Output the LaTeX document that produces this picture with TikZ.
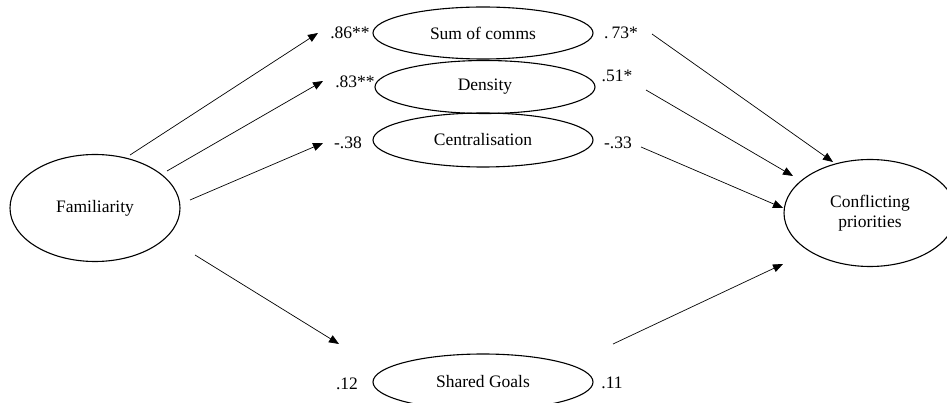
\documentclass[tikz,border=0pt]{standalone}
\usepackage{fontspec}
\setmainfont{Liberation Serif}
\usetikzlibrary{shapes.geometric,arrows.meta}
\begin{document}
\begin{tikzpicture}[x=1pt,y=-1pt,
  every node/.style={font=\fontsize{17.5}{20}\selectfont},
  var/.style={ellipse,draw,line width=1.1pt,inner sep=0pt,align=center},
  lbl/.style={inner sep=0pt},
  path/.style={line width=0.7pt,-{Triangle[length=10pt,width=8pt]}}]
\useasboundingbox (0,0) rectangle (947,403);
\node[var,minimum width=170,minimum height=107] (fam) at (95,208) {Familiarity};
\node[var,minimum width=220,minimum height=52] (sum) at (483,33) {Sum of comms};
\node[var,minimum width=220,minimum height=53] (den) at (485,87) {Density};
\node[var,minimum width=220,minimum height=54] (cen) at (483,140) {Centralisation};
\node[var,minimum width=220,minimum height=56] (sg) at (483,382) {Shared Goals};
\node[var,minimum width=172,minimum height=107] (cp) at (870,213) {Conflicting\\priorities};
\node[lbl] (l1) at (350,33) {.86**};
\node[lbl] (l2) at (355,82) {.83**};
\node[lbl] (l3) at (348,143) {-.38};
\node[lbl] (l4) at (347,384) {.12};
\node[lbl] (r1) at (621,33) {.\,73*};
\node[lbl] (r2) at (617,76) {.51*};
\node[lbl] (r3) at (618,143) {-.33};
\node[lbl] (r4) at (612,383) {.11};
\coordinate (a1s) at (130,155); \coordinate (a1e) at (318,33);
\coordinate (a2s) at (167,171); \coordinate (a2e) at (323,81);
\coordinate (a3s) at (190,200); \coordinate (a3e) at (323,143);
\coordinate (a4s) at (195,255); \coordinate (a4e) at (339,344);
\coordinate (b1s) at (652,34);  \coordinate (b1e) at (833,162);
\coordinate (b2s) at (646,90);  \coordinate (b2e) at (793,176);
\coordinate (b3s) at (641,147); \coordinate (b3e) at (783,208);
\coordinate (b4s) at (613,344); \coordinate (b4e) at (783,264);
\draw[path] (a1s) -- (a1e);
\draw[path] (a2s) -- (a2e);
\draw[path] (a3s) -- (a3e);
\draw[path] (a4s) -- (a4e);
\draw[path] (b1s) -- (b1e);
\draw[path] (b2s) -- (b2e);
\draw[path] (b3s) -- (b3e);
\draw[path] (b4s) -- (b4e);
\end{tikzpicture}
\end{document}
